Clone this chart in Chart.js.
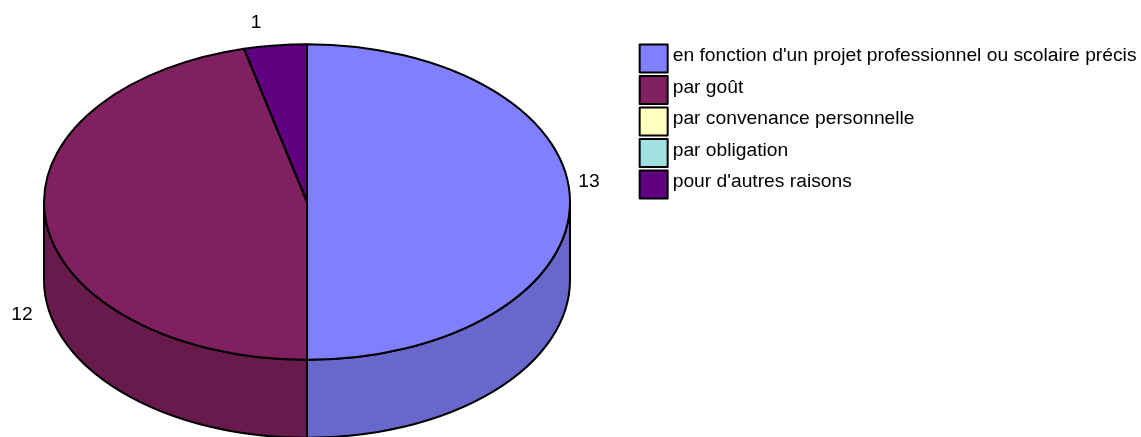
<!DOCTYPE html>
<html lang="fr">
<head>
  <meta charset="UTF-8">
  <title>Camembert 3D</title>
  <script src="https://cdn.jsdelivr.net/npm/chart.js"></script>
  <style>
    body { margin: 0; background: #fff; }
    canvas { display: block; }
  </style>
</head>
<body>
  <canvas id="pie" width="1141" height="437"></canvas>

  <script>
    const categories = [
      "en fonction d'un projet professionnel ou scolaire précis",
      'par goût',
      'par convenance personnelle',
      'par obligation',
      "pour d'autres raisons"
    ];
    const values = [13, 12, 0, 0, 1];
    const topColors = ['#8080ff', '#802060', '#ffffc0', '#a0e0e0', '#600080'];
    const sideColors = ['#6868cc', '#681a4d', '#cccc9a', '#80b3b3', '#4d0066'];

    // where the tilted pie sits on the page
    const pieX = 307;
    const pieY = 202;
    const tilt = 0.6;
    const depth = 78;
    const font = { family: '"Liberation Sans", Arial, sans-serif', size: 19.25 };
    const swatchSize = 28;
    const swatchDrop = 2.5;

    // value labels sit by hand next to the pie, one per non empty slice
    const valueLabels = [
      { index: 0, x: 589, y: 182 },
      { index: 1, x: 22, y: 315 },
      { index: 4, x: 256, y: 23 }
    ];

    const tiltedPie = {
      id: 'tiltedPie',
      beforeDatasetDraw(chart, args) {
        const ctx = chart.ctx;
        const arcs = args.meta.data;

        // front wall first, only the part of each slice facing us
        arcs.forEach((arc, i) => {
          const from = Math.max(arc.startAngle, 0);
          const to = Math.min(arc.endAngle, Math.PI);
          if (to <= from) return;
          const rx = arc.outerRadius;
          const ry = rx * tilt;
          ctx.beginPath();
          ctx.ellipse(pieX, pieY, rx, ry, 0, from, to);
          ctx.ellipse(pieX, pieY + depth, rx, ry, 0, to, from, true);
          ctx.closePath();
          ctx.fillStyle = sideColors[i];
          ctx.fill();
          ctx.strokeStyle = '#000';
          ctx.lineWidth = 2;
          ctx.stroke();
        });

        // top face: the library draws its arcs, squashed
        const first = arcs[0];
        ctx.save();
        ctx.translate(pieX, pieY);
        ctx.scale(1, tilt);
        ctx.translate(-first.x, -first.y);
      },
      afterDatasetDraw(chart, args) {
        const ctx = chart.ctx;
        ctx.restore();

        // outlines after the restore so the pen stays the same width all round
        args.meta.data.forEach(arc => {
          if (arc.endAngle - arc.startAngle <= 0) return;
          const rx = arc.outerRadius;
          const ry = rx * tilt;
          const start = Math.atan2(Math.sin(arc.startAngle), Math.cos(arc.startAngle));
          ctx.beginPath();
          ctx.moveTo(pieX, pieY);
          ctx.ellipse(pieX, pieY, rx, ry, 0, start, start + arc.endAngle - arc.startAngle);
          ctx.closePath();
          ctx.strokeStyle = '#000';
          ctx.lineWidth = 2;
          ctx.lineJoin = 'round';
          ctx.stroke();
        });

        ctx.fillStyle = '#000';
        ctx.font = font.size + 'px ' + font.family;
        ctx.textAlign = 'center';
        ctx.textBaseline = 'middle';
        valueLabels.forEach(l => ctx.fillText(String(values[l.index]), l.x, l.y));
      },
      afterDraw(chart) {
        // legend swatches are wider than the gap the legend leaves before its text
        const ctx = chart.ctx;
        chart.legend.legendHitBoxes.forEach((hit, i) => {
          ctx.fillStyle = topColors[i];
          ctx.fillRect(hit.left, hit.top + swatchDrop, swatchSize, swatchSize);
          ctx.strokeStyle = '#000';
          ctx.lineWidth = 2;
          ctx.strokeRect(hit.left, hit.top + swatchDrop, swatchSize, swatchSize);
        });
      }
    };

    new Chart(document.getElementById('pie').getContext('2d'), {
      type: 'pie',
      data: {
        labels: categories,
        datasets: [{
          data: values,
          backgroundColor: topColors,
          borderWidth: 0,
          clip: false
        }]
      },
      options: {
        responsive: false,
        animation: false,
        radius: 263,
        layout: { padding: { top: 38.5, right: -5.5 } },
        plugins: {
          tooltip: { enabled: false },
          legend: {
            position: 'right',
            align: 'start',
            labels: {
              boxWidth: 23.4,
              boxHeight: 28,
              padding: 3.5,
              color: '#000',
              font: font,
              generateLabels() {
                return categories.map((text, i) => ({
                  text: text,
                  index: i,
                  fillStyle: 'transparent',
                  strokeStyle: 'transparent',
                  lineWidth: 0,
                  fontColor: '#000'
                }));
              }
            }
          }
        }
      },
      plugins: [tiltedPie]
    });
  </script>
</body>
</html>
